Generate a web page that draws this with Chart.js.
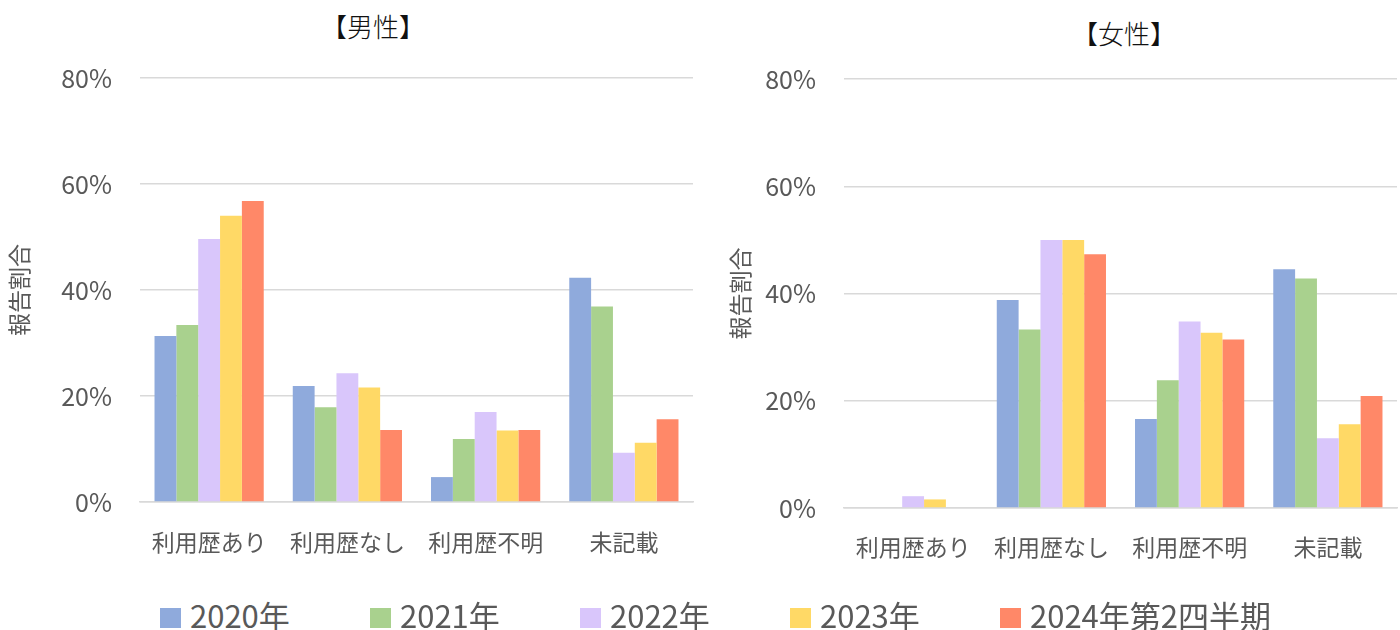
<!DOCTYPE html>
<html>
<head>
<meta charset="utf-8">
<script src="https://cdn.jsdelivr.net/npm/chart.js@4/dist/chart.umd.min.js"></script>
<style>
  body { margin: 0; background: #fff; width: 1400px; height: 630px; position: relative; overflow: hidden; font-family: "Noto Sans CJK JP", sans-serif; }
  canvas { position: absolute; }
  .title { position: absolute; font-size: 26px; font-weight: 300; color: #111; line-height: 32px; transform: translate(-50%, -50%); white-space: nowrap; }
  .legend-item { position: absolute; top: 598px; height: 32px; display: flex; align-items: center; color: #595959; font-size: 31px; white-space: nowrap; }
  .legend-box { width: 21px; height: 20px; margin-right: 9px; margin-top: 8px; }
</style>
</head>
<body>
<div class="title" style="left:373px; top:26px;">【男性】</div>
<div class="title" style="left:1124px; top:33px;">【女性】</div>
<canvas id="male-chart" width="700" height="590" style="left:0; top:0;"></canvas>
<canvas id="female-chart" width="696" height="595" style="left:704px; top:0;"></canvas>
<div id="legend"></div>
<script>
const categories = ['利用歴あり', '利用歴なし', '利用歴不明', '未記載'];
const seriesNames = ['2020年', '2021年', '2022年', '2023年', '2024年第2四半期'];
const seriesColors = ['#8FAADC', '#A9D18E', '#D9C6FB', '#FFD966', '#FF8868'];
const yTicks = [0, 20, 40, 60, 80];

// 男性 (%)
const male2020 = [31.3, 21.9, 4.7, 42.3];
const male2021 = [33.4, 17.9, 11.9, 36.9];
const male2022 = [49.6, 24.3, 17.0, 9.3];
const male2023 = [54.0, 21.6, 13.5, 11.2];
const male2024 = [56.8, 13.6, 13.6, 15.6];

// 女性 (%)
const female2020 = [0, 38.8, 16.6, 44.5];
const female2021 = [0, 33.3, 23.8, 42.8];
const female2022 = [2.2, 50.0, 34.8, 13.0];
const female2023 = [1.6, 50.0, 32.7, 15.6];
const female2024 = [0, 47.3, 31.4, 20.9];

const FONT = '"Noto Sans CJK JP", sans-serif';
const GRID = '#D9D9D9';
const TEXT = '#595959';

function buildDatasets(seriesValues) {
    return seriesValues.map((values, i) => ({
        label: seriesNames[i],
        data: values,
        backgroundColor: seriesColors[i],
        borderWidth: 0,
        categoryPercentage: 0.79,
        barPercentage: 1.0
    }));
}

function renderChart(canvasId, seriesValues, opts) {
    const ctx = document.getElementById(canvasId).getContext('2d');
    return new Chart(ctx, {
        type: 'bar',
        data: { labels: categories, datasets: buildDatasets(seriesValues) },
        options: {
            responsive: false,
            animation: false,
            devicePixelRatio: 1,
            layout: { padding: { top: opts.top, right: opts.right, left: 0, bottom: 0 } },
            plugins: { legend: { display: false }, title: { display: false }, tooltip: { enabled: false } },
            scales: {
                x: {
                    grid: { display: false, drawTicks: false },
                    border: { display: true, color: GRID, width: 1.5 },
                    ticks: { color: TEXT, font: { family: FONT, size: 23 }, padding: opts.xPad, maxRotation: 0 },
                    afterFit: (scale) => { scale.height = opts.xHeight; }
                },
                y: {
                    min: 0,
                    max: 80,
                    afterBuildTicks: (scale) => { scale.ticks = yTicks.map(v => ({ value: v })); },
                    grid: { color: GRID, lineWidth: 1.5, drawTicks: false },
                    border: { display: false },
                    ticks: { color: TEXT, font: { family: FONT, size: 25 }, padding: 28, callback: (v) => v + '%' },
                    title: { display: true, text: '報告割合', color: TEXT, font: { family: FONT, size: 23 }, padding: { top: opts.titlePad, bottom: 0 } },
                    afterFit: (scale) => { scale.width = 140; }
                }
            }
        }
    });
}

renderChart('male-chart', [male2020, male2021, male2022, male2023, male2024],
    { top: 78, right: 7, xHeight: 88, xPad: 26, titlePad: 5 });
renderChart('female-chart', [female2020, female2021, female2022, female2023, female2024],
    { top: 79, right: 3, xHeight: 87, xPad: 25, titlePad: 22 });

// 凡例
const legend = document.getElementById('legend');
seriesNames.forEach((name, i) => {
    const item = document.createElement('div');
    item.className = 'legend-item';
    item.style.left = (160 + i * 210) + 'px';
    const box = document.createElement('span');
    box.className = 'legend-box';
    box.style.background = seriesColors[i];
    const label = document.createElement('span');
    label.textContent = name;
    item.appendChild(box);
    item.appendChild(label);
    legend.appendChild(item);
});
</script>
</body>
</html>
